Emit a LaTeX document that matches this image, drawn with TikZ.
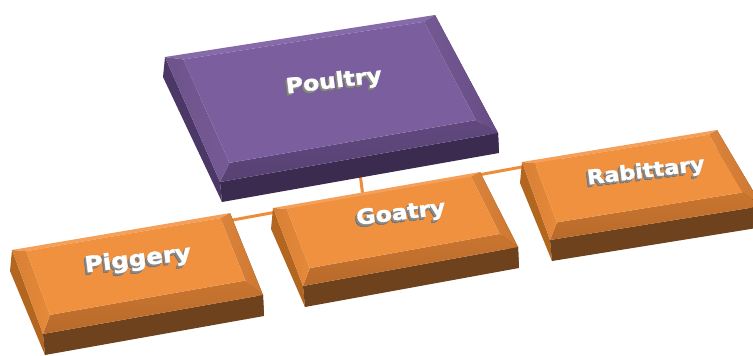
\documentclass[tikz,border=0pt]{standalone}
\usepackage{fontspec}
\newfontfamily\lblfont{DejaVu Sans}[BoldFeatures={FakeBold=1.5}]
\usetikzlibrary{calc}
\definecolor{puflat}{HTML}{7B5E9E}
\definecolor{putop}{HTML}{876AA9}
\definecolor{puleft}{HTML}{71568F}
\definecolor{puright}{HTML}{6C508C}
\definecolor{pubot}{HTML}{5C4579}
\definecolor{puside}{HTML}{4B3867}
\definecolor{pufront}{HTML}{3A2B4F}
\definecolor{orflat}{HTML}{EF913F}
\definecolor{ortop}{HTML}{F4A05A}
\definecolor{orleft}{HTML}{DF8437}
\definecolor{orright}{HTML}{D87D32}
\definecolor{orbot}{HTML}{C2702D}
\definecolor{orside}{HTML}{B3661F}
\definecolor{orfront}{HTML}{6E421C}
\definecolor{conn}{HTML}{EE8E3B}
\definecolor{shd}{HTML}{8A8A8A}
\definecolor{shddark}{HTML}{707070}
\newcommand{\bevbox}[8]{%
 \coordinate (#1a) at #2;
 \coordinate (#1b) at #3;
 \coordinate (#1c) at #4;
 \coordinate (#1d) at #5;
 \coordinate (#1A) at ($(#1a)+(-2,#6)$);
 \coordinate (#1B) at ($(#1b)+(0,#6)$);
 \coordinate (#1C) at ($(#1c)+(1,#6)$);
 \coordinate (#1D) at ($(#1d)+(2,#6)$);
 \coordinate (#1ia) at ($($(#1a)!0.06!(#1b)$)!0.04!($(#1d)!0.06!(#1c)$)$);
 \coordinate (#1ib) at ($($(#1a)!0.95!(#1b)$)!0.04!($(#1d)!0.95!(#1c)$)$);
 \coordinate (#1ic) at ($($(#1a)!0.95!(#1b)$)!#8!($(#1d)!0.95!(#1c)$)$);
 \coordinate (#1id) at ($($(#1a)!0.06!(#1b)$)!#8!($(#1d)!0.06!(#1c)$)$);
 \fill[#7front] (#1b) -- (#1c) -- (#1C) -- (#1B) -- cycle;
 \fill[#7side] (#1a) -- (#1d) -- (#1D) -- (#1A) -- cycle;
 \fill[#7front] (#1d) -- (#1c) -- (#1C) -- (#1D) -- cycle;
 \fill[#7top] (#1a) -- (#1b) -- (#1ib) -- (#1ia) -- cycle;
 \shade[left color=#7right!95!white, right color=#7right!95!black] (#1b) -- (#1c) -- (#1ic) -- (#1ib) -- cycle;
 \shade[top color=#7bot!85!#7flat, bottom color=#7bot!95!black] (#1c) -- (#1d) -- (#1id) -- (#1ic) -- cycle;
 \shade[left color=#7left!97!black, right color=#7left!60!#7flat] (#1d) -- (#1a) -- (#1ia) -- (#1id) -- cycle;
 \fill[#7flat] (#1ia) -- (#1ib) -- (#1ic) -- (#1id) -- cycle;
}
\newcommand{\boxlabel}[4]{%
 \node[shdlbl=#4, text=shddark] (#1s3) at ($#2+(-2.1,2.8)$) {#3};
 \node[shdlbl=#4] (#1s2) at ($#2+(-1.4,1.9)$) {#3};
 \node[shdlbl=#4] (#1s1) at ($#2+(-0.7,0.95)$) {#3};
 \node[lbl=#4] (#1) at #2 {#3};
}
\tikzset{
 lbl/.style={font={\lblfont\bfseries\fontsize{#1}{#1}\selectfont}, text=white, rotate=7, xscale=1.12, inner sep=0pt},
 shdlbl/.style={font={\lblfont\bfseries\fontsize{#1}{#1}\selectfont}, text=shd, rotate=7, xscale=1.12, inner sep=0pt},
 connector/.style={draw=conn, line width=3pt}
}
\begin{document}
\begin{tikzpicture}[x=1pt,y=-1pt]
\useasboundingbox (0,0) rectangle (753,356);
\clip (0,0) rectangle (753,356);
\fill[white] (0,0) rectangle (753,356);
% connectors
\coordinate (stubtop) at (359,165);
\coordinate (stubbot) at (363,197);
\coordinate (lineL) at (200,226);
\coordinate (lineR) at (560,160);
\draw[connector] (stubtop) -- (stubbot);
\draw[connector] (lineL) -- (lineR);
% boxes
\bevbox{poultry}{(165,57)}{(435,15)}{(498,133)}{(220,182)}{20}{pu}{0.87}
\bevbox{piggery}{(12,250)}{(230,213)}{(263,295)}{(43,334)}{21}{or}{0.80}
\bevbox{goatry}{(273,208)}{(480,172)}{(518,247)}{(303,286)}{21}{or}{0.80}
\bevbox{rabittary}{(522,162)}{(717,130)}{(762,206)}{(550,240)}{21}{or}{0.80}
% labels
\boxlabel{tpoultry}{(334,82)}{Poultry}{21}
\boxlabel{tpiggery}{(138,260)}{Piggery}{22}
\boxlabel{tgoatry}{(401,214)}{Goatry}{21}
\boxlabel{trabittary}{(646,172)}{Rabittary}{20}
\end{tikzpicture}
\end{document}
